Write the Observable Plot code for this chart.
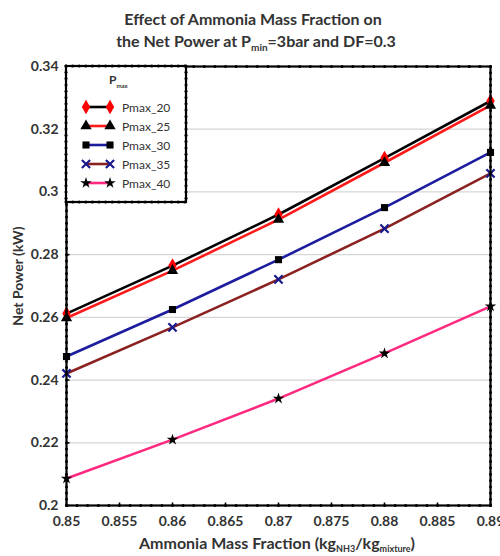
<!DOCTYPE html>
<html>
<head>
<meta charset="utf-8">
<script src="https://cdn.jsdelivr.net/npm/d3@7"></script>
<script src="https://cdn.jsdelivr.net/npm/@observablehq/plot@0.6"></script>
<style>
  body { margin: 0; background: #fff; }
  #chart svg { display: block; }
</style>
</head>
<body>
<div id="chart"></div>
<script>
// Ammonia mass fraction (kg NH3 / kg mixture)
const fractions = [0.85, 0.86, 0.87, 0.88, 0.89];

// Net power (kW) for each maximum pressure
const pmax20 = [0.2612, 0.2765, 0.2928, 0.3108, 0.3290];
const pmax25 = [0.2598, 0.2749, 0.2912, 0.3093, 0.3276];
const pmax30 = [0.2475, 0.2625, 0.2784, 0.2950, 0.3126];
const pmax35 = [0.2421, 0.2568, 0.2721, 0.2883, 0.3059];
const pmax40 = [0.2086, 0.2210, 0.2341, 0.2485, 0.2635];

const seriesNames = ["Pmax_20", "Pmax_25", "Pmax_30", "Pmax_35", "Pmax_40"];
const seriesValues = [pmax20, pmax25, pmax30, pmax35, pmax40];

// Line and marker styling per series
const lineColors = ["#000000", "#ff1a1a", "#1c1c9e", "#8b2222", "#ff2a80"];
const markerSymbols = ["diamond", "triangle", "square", "times", "star"];
const markerFills = ["#ff0000", "#000000", "#000000", "none", "#000000"];
const markerStrokes = ["none", "none", "none", "#1a1a8c", "none"];
const markerRadii = [4.4, 4.2, 4.0, 3.8, 3.6];

// Axis ticks
const yTicks = [0.2, 0.22, 0.24, 0.26, 0.28, 0.3, 0.32, 0.34];
const xTicks = [0.85, 0.855, 0.86, 0.865, 0.87, 0.875, 0.88, 0.885, 0.89];
const xMinor = d3.range(0, 41).map(i => 0.85 + i * 0.001);
const yMinor = d3.range(0, 71).map(i => 0.2 + i * 0.002);

const rows = seriesNames.flatMap((name, i) =>
  fractions.map((f, j) => ({series: name, fraction: f, power: seriesValues[i][j]}))
);

const fmt = d => String(+d.toFixed(3));
const FONT = "Lato, 'Open Sans', sans-serif";

// short inward tick marks drawn as custom symbols
const tickUp = {draw(ctx, size) { const l = Math.sqrt(size / Math.PI); ctx.moveTo(0, 0); ctx.lineTo(0, -l); }};
const tickRight = {draw(ctx, size) { const l = Math.sqrt(size / Math.PI); ctx.moveTo(0, 0); ctx.lineTo(l, 0); }};

const markerMarks = seriesNames.map((name, i) =>
  Plot.dot(rows.filter(d => d.series === name), {
    x: "fraction", y: "power",
    symbol: () => markerSymbols[i],
    r: markerRadii[i],
    fill: markerFills[i],
    stroke: markerStrokes[i],
    strokeWidth: markerStrokes[i] === "none" ? 0 : 2.2
  })
);

const chart = Plot.plot({
  width: 500,
  height: 556,
  marginLeft: 66,
  marginRight: 10,
  marginTop: 66,
  marginBottom: 51,
  style: {fontFamily: FONT, fontSize: "14px", fontWeight: "bold", color: "#333", background: "#fff"},
  x: {domain: [0.85, 0.89], label: null},
  y: {domain: [0.2, 0.34], label: null},
  color: {domain: seriesNames, range: lineColors},
  symbol: {domain: markerSymbols, range: markerSymbols},
  marks: [
    Plot.ruleY(yTicks.slice(1, -1), {stroke: "#d6d6d6", strokeWidth: 1.2}),
    Plot.axisY({ticks: yTicks, tickSize: 0, tickPadding: 8, tickFormat: fmt, fill: "#333", fontWeight: "bold", fontSize: 14}),
    Plot.axisX({ticks: xTicks, tickSize: 0, tickPadding: 11, tickFormat: fmt, fill: "#333", fontWeight: "bold", fontSize: 14}),
    Plot.line(rows, {x: "fraction", y: "power", z: "series", stroke: "series", strokeWidth: 2.6}),
    ...markerMarks,
    Plot.frame({stroke: "#000", strokeWidth: 2.2}),
    Plot.dot(xMinor, {x: d => d, y: () => 0.2, r: 1.5, fill: "#000"}),
    Plot.dot(xMinor, {x: d => d, y: () => 0.34, r: 1.5, fill: "#000"}),
    Plot.dot(yMinor, {x: () => 0.85, y: d => d, r: 1.5, fill: "#000"}),
    Plot.dot(yMinor, {x: () => 0.89, y: d => d, r: 1.5, fill: "#000"}),
    Plot.dot(xTicks, {x: d => d, y: () => 0.2, symbol: tickUp, r: 3, stroke: "#000", strokeWidth: 1.6}),
    Plot.dot(yTicks, {x: () => 0.85, y: d => d, symbol: tickRight, r: 3, stroke: "#000", strokeWidth: 1.6})
  ]
});

document.getElementById("chart").append(chart);

const svg = d3.select(chart);

// Title (two lines, with subscript)
const title = svg.append("g")
  .attr("font-family", FONT).attr("font-weight", "bold").attr("font-size", 16)
  .attr("fill", "#333").attr("text-anchor", "middle");
title.append("text").attr("x", 253).attr("y", 25).text("Effect of Ammonia Mass Fraction on");
const t2 = title.append("text").attr("x", 256).attr("y", 47);
t2.append("tspan").text("the Net Power at P");
t2.append("tspan").attr("font-size", 10).attr("dy", 4).text("min");
t2.append("tspan").attr("dy", -4).text("=3bar and DF=0.3");

// Axis titles
const xt = svg.append("text")
  .attr("x", 277).attr("y", 549)
  .attr("font-family", FONT).attr("font-weight", "bold").attr("font-size", 16)
  .attr("fill", "#333").attr("text-anchor", "middle");
xt.append("tspan").text("Ammonia Mass Fraction (kg");
xt.append("tspan").attr("font-size", 9).attr("dy", 3).text("NH3");
xt.append("tspan").attr("dy", -3).text("/kg");
xt.append("tspan").attr("font-size", 9).attr("dy", 3).text("mixture");
xt.append("tspan").attr("dy", -3).text(")");

svg.append("text")
  .attr("transform", "translate(23,276) rotate(-90)")
  .attr("font-family", FONT).attr("font-weight", "bold").attr("font-size", 14)
  .attr("fill", "#333").attr("text-anchor", "middle")
  .text("Net Power (kW)");

// Legend box in the upper-left corner of the plot
const lg = svg.append("g").attr("font-family", FONT).attr("text-anchor", "start");
const L = {x0: 66, y0: 66, x1: 186, y1: 202};
lg.append("rect")
  .attr("x", L.x0).attr("y", L.y0).attr("width", L.x1 - L.x0).attr("height", L.y1 - L.y0)
  .attr("fill", "#fff").attr("stroke", "#000").attr("stroke-width", 2.2);
for (let x = L.x0; x <= L.x1; x += 6.6) {
  lg.append("circle").attr("cx", x).attr("cy", L.y0).attr("r", 1.5).attr("fill", "#000");
  lg.append("circle").attr("cx", x).attr("cy", L.y1).attr("r", 1.5).attr("fill", "#000");
}
for (let y = L.y0; y <= L.y1; y += 6.3) {
  lg.append("circle").attr("cx", L.x0).attr("cy", y).attr("r", 1.5).attr("fill", "#000");
  lg.append("circle").attr("cx", L.x1).attr("cy", y).attr("r", 1.5).attr("fill", "#000");
}
const lt = lg.append("text").attr("x", 109).attr("y", 84)
  .attr("font-weight", "bold").attr("font-size", 12).attr("fill", "#333");
lt.append("tspan").text("P");
lt.append("tspan").attr("font-size", 6).attr("dy", 4).text("max");

const symbolTypes = {
  diamond: d3.symbolDiamond, triangle: d3.symbolTriangle, square: d3.symbolSquare,
  times: d3.symbolTimes, star: d3.symbolStar
};
seriesNames.forEach((name, i) => {
  const y = 107 + i * 19;
  lg.append("line").attr("x1", 86).attr("x2", 110).attr("y1", y).attr("y2", y)
    .attr("stroke", lineColors[i]).attr("stroke-width", 2.6);
  [86, 110].forEach(x => {
    const r = markerRadii[i];
    lg.append("path")
      .attr("transform", `translate(${x},${y})`)
      .attr("d", d3.symbol(symbolTypes[markerSymbols[i]], r * r * Math.PI)())
      .attr("fill", markerFills[i])
      .attr("stroke", markerStrokes[i])
      .attr("stroke-width", markerStrokes[i] === "none" ? 0 : 2.2);
  });
  lg.append("text").attr("x", 122).attr("y", y + 4.5)
    .attr("font-size", 12).attr("font-weight", "normal").attr("fill", "#333").text(name);
});
</script>
</body>
</html>
